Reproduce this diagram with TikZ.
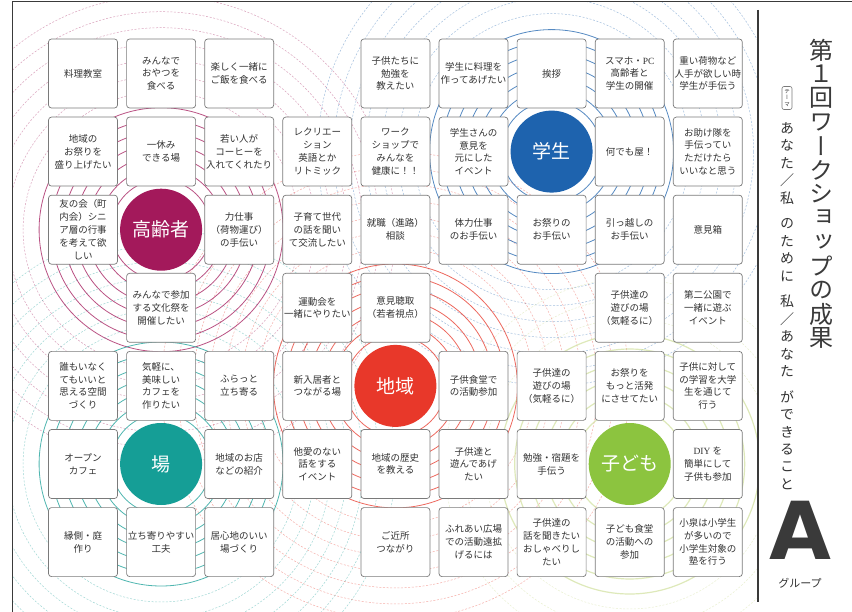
\documentclass[tikz,border=0pt]{standalone}
\usepackage{fontspec}
\setmainfont{Noto Sans CJK JP}
\newfontfamily\vertfont[RawFeature=+vert]{Noto Sans CJK JP}
\newfontfamily\lser{Liberation Serif}
\newfontfamily\bigA{DejaVu Sans}
\definecolor{kcol}{HTML}{A3195B}
\definecolor{gcol}{HTML}{1E63AE}
\definecolor{ccol}{HTML}{E8382A}
\definecolor{bcol}{HTML}{159E96}
\definecolor{dcol}{HTML}{8CC43F}
\definecolor{dring}{HTML}{C9DB8C}
\definecolor{boxgray}{HTML}{7A7A7A}
\definecolor{txtc}{HTML}{333333}
\definecolor{titc}{HTML}{3A3A3A}
\newcommand\bx[3]{\node[ibox] (b#1#2) at ({83+78.1*#2},{73.5+78.1*#1}) {#3};}
\begin{document}
\begin{tikzpicture}[x=1pt,y=-1pt,
  ibox/.style={draw=boxgray, line width=0.7pt, rounded corners=3pt, fill=white,
    minimum width=69pt, minimum height=69pt, inner sep=0.5pt, align=center,
    font=\fontsize{9.5}{12.8}\selectfont, text=txtc},
  hub/.style={circle, minimum size=82pt, inner sep=0pt, text=white,
    font=\fontsize{19}{20}\selectfont},
  ringS/.style={line width=0.8pt, draw opacity=0.75},
  ringD/.style={line width=0.5pt, dash pattern=on 2pt off 1.6pt, draw opacity=0.4},
  tchar/.style={inner sep=0pt, text=titc, font=\vertfont\fontsize{24}{24}\selectfont},
  schar/.style={inner sep=0pt, text=txtc, font=\vertfont\fontsize{14}{14}\selectfont},
  frameline/.style={draw=titc, line width=1pt}]
\useasboundingbox (0,0) rectangle (852,612);
\fill[white] (0,0) rectangle (852,612);
\coordinate (cK) at (161.1,229.7);
\coordinate (cG) at (551.6,151.6);
\coordinate (cC) at (395.4,385.9);
\coordinate (cB) at (161.1,464.0);
\coordinate (cD) at (629.7,464.0);
\coordinate (fTL) at (12,2);
\coordinate (fTR) at (852,2);
\coordinate (fBL) at (12,612);
\coordinate (sepT) at (758,10);
\coordinate (sepB) at (758,602);
% rings
\begin{scope}
\clip (12,2) rectangle (758,612);
\foreach \r in {138,154,...,234} {
  \draw[ringD,kcol] (cK) circle[radius=\r pt];
  \draw[ringD,gcol] (cG) circle[radius=\r pt];
  \draw[ringD,ccol] (cC) circle[radius=\r pt];
  \draw[ringD,bcol] (cB) circle[radius=\r pt];
}
\foreach \r in {145,165,185} \draw[ringD,dring] (cD) circle[radius=\r pt];
\foreach \r in {50,62,...,122} {
  \draw[ringS,kcol] (cK) circle[radius=\r pt];
  \draw[ringS,gcol] (cG) circle[radius=\r pt];
  \draw[ringS,ccol] (cC) circle[radius=\r pt];
  \draw[ringS,bcol] (cB) circle[radius=\r pt];
}
\foreach \r in {55,70,...,130} \draw[line width=1.2pt,dring,draw opacity=0.6] (cD) circle[radius=\r pt];
\end{scope}
% frame
\draw[frameline] (fBL) -- (fTL) -- (fTR);
\draw[draw=titc, line width=1.3pt] (sepT) -- (sepB);
% boxes
\bx{0}{0}{料理教室}
\bx{0}{1}{みんなで\\おやつを\\食べる}
\bx{0}{2}{楽しく一緒に\\ご飯を食べる}
\bx{0}{4}{子供たちに\\勉強を\\教えたい}
\bx{0}{5}{学生に料理を\\作ってあげたい}
\bx{0}{6}{挨拶}
\bx{0}{7}{スマホ・{\lser PC}\\高齢者と\\学生の開催}
\bx{0}{8}{重い荷物など\\人手が欲しい時\\学生が手伝う}
\bx{1}{0}{地域の\\お祭りを\\盛り上げたい}
\bx{1}{1}{一休み\\できる場}
\bx{1}{2}{若い人が\\コーヒーを\\入れてくれたり}
\bx{1}{3}{レクリエー\\ション\\英語とか\\リトミック}
\bx{1}{4}{ワーク\\ショップで\\みんなを\\健康に！！}
\bx{1}{5}{学生さんの\\意見を\\元にした\\イベント}
\bx{1}{7}{何でも屋！}
\bx{1}{8}{お助け隊を\\手伝ってい\\ただけたら\\いいなと思う}
\bx{2}{0}{友の会（町\\内会）シニ\\ア層の行事\\を考えて欲\\しい}
\bx{2}{2}{力仕事\\（荷物運び）\\の手伝い}
\bx{2}{3}{子育て世代\\の話を聞い\\て交流したい}
\bx{2}{4}{就職（進路）\\相談}
\bx{2}{5}{体力仕事\\のお手伝い}
\bx{2}{6}{お祭りの\\お手伝い}
\bx{2}{7}{引っ越しの\\お手伝い}
\bx{2}{8}{意見箱}
\bx{3}{1}{みんなで参加\\する文化祭を\\開催したい}
\bx{3}{3}{運動会を\\一緒にやりたい}
\bx{3}{4}{意見聴取\\（若者視点）}
\bx{3}{7}{子供達の\\遊びの場\\（気軽るに）}
\bx{3}{8}{第二公園で\\一緒に遊ぶ\\イベント}
\bx{4}{0}{誰もいなく\\てもいいと\\思える空間\\づくり}
\bx{4}{1}{気軽に、\\美味しい\\カフェを\\作りたい}
\bx{4}{2}{ふらっと\\立ち寄る}
\bx{4}{3}{新入居者と\\つながる場}
\bx{4}{5}{子供食堂で\\の活動参加}
\bx{4}{6}{子供達の\\遊びの場\\（気軽るに）}
\bx{4}{7}{お祭りを\\もっと活発\\にさせてたい}
\bx{4}{8}{子供に対して\\の学習を大学\\生を通じて\\行う}
\bx{5}{0}{オープン\\カフェ}
\bx{5}{2}{地域のお店\\などの紹介}
\bx{5}{3}{他愛のない\\話をする\\イベント}
\bx{5}{4}{地域の歴史\\を教える}
\bx{5}{5}{子供達と\\遊んであげ\\たい}
\bx{5}{6}{勉強・宿題を\\手伝う}
\bx{5}{8}{{\lser DIY} を\\簡単にして\\子供も参加}
\bx{6}{0}{縁側・庭\\作り}
\bx{6}{1}{立ち寄りやすい\\工夫}
\bx{6}{2}{居心地のいい\\場づくり}
\bx{6}{4}{ご近所\\つながり}
\bx{6}{5}{ふれあい広場\\での活動遠拡\\げるには}
\bx{6}{6}{子供達の\\話を聞きたい\\おしゃべりし\\たい}
\bx{6}{7}{子ども食堂\\の活動への\\参加}
\bx{6}{8}{小泉は小学生\\が多いので\\小学生対象の\\塾を行う}
% hubs
\node[hub, fill=kcol] (hK) at (cK) {高齢者};
\node[hub, fill=gcol] (hG) at (cG) {学生};
\node[hub, fill=ccol] (hC) at (cC) {地域};
\node[hub, fill=bcol] (hB) at (cB) {場};
\node[hub, fill=dcol] (hD) at (cD) {子ども};
% title
\foreach \ch [count=\i] in {第,１,回,ワ,ー,ク,シ,ョ,ッ,プ,の,成,果}
  \node[tchar] (t\i) at (821,{50+24*(\i-1)}) {\ch};
\node[draw=boxgray, rounded corners=2pt, line width=0.6pt, minimum width=10pt,
  minimum height=23pt, inner sep=0.5pt, align=center, text=txtc,
  font=\vertfont\fontsize{5.5}{6.5}\selectfont] (theme) at (787,98) {テ\\ー\\マ};
\foreach \ch/\yy [count=\i] in {あ/128,な/145.5,た/163,私/198,の/223.5,た/241,め/258.5,に/276,私/301.5,あ/336.5,な/354,た/371.5,が/397,で/414.5,き/432,る/449.5,こ/467,と/484.5}
  \node[schar] (s\i) at (787,\yy) {\ch};
\node[inner sep=0pt, text=txtc, font=\fontsize{14}{14}\selectfont] (sl1) at (787,180.5) {／};
\node[inner sep=0pt, text=txtc, font=\fontsize{14}{14}\selectfont] (sl2) at (787,319) {／};
\node[inner sep=0pt, text=titc, font=\bigA\bfseries\fontsize{80}{80}\selectfont] (bigA) at (800,530) {A};
\node[inner sep=0pt, text=txtc, font=\fontsize{11}{11}\selectfont] (grp) at (800,583) {グループ};
\end{tikzpicture}
\end{document}
